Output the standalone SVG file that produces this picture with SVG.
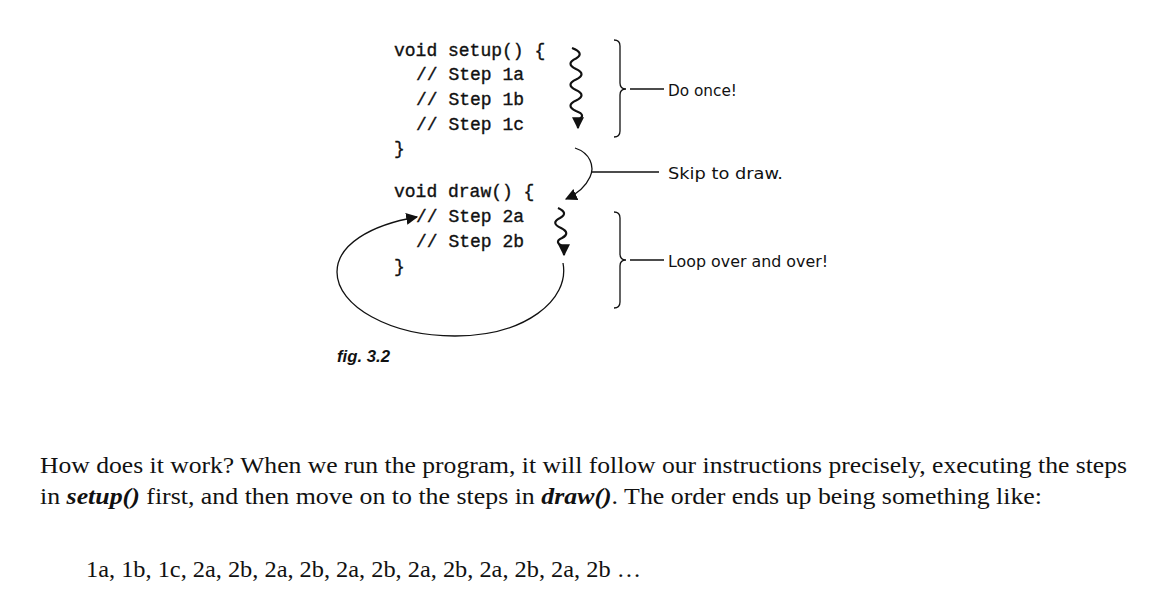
<svg xmlns="http://www.w3.org/2000/svg" width="1169" height="608" viewBox="0 0 1169 608">
<style>
.code{font-family:"Liberation Mono","Courier New",monospace;font-size:18px;fill:#111;stroke:#111;stroke-width:0.35}
.hand{font-family:"DejaVu Sans","Noto Sans",sans-serif;font-size:16px;fill:#111}
.body{font-family:"Liberation Serif","Times New Roman",serif;font-size:24px;fill:#111}
.bi{font-weight:bold;font-style:italic}
.ln{fill:none;stroke:#111;stroke-width:1.3}
.sq{fill:none;stroke:#111;stroke-width:2.2}
</style>
<defs>
<marker id="ah" viewBox="0 0 10 10" refX="9" refY="5" markerWidth="12" markerHeight="12" markerUnits="userSpaceOnUse" orient="auto">
<path d="M0,0 L10,5 L0,10 z" fill="#111"/>
</marker>
</defs>
<rect width="1169" height="608" fill="#fff"/>
<g id="setup-code">
<text class="code" x="394" y="56">void setup() {</text>
<text class="code" x="416" y="80">// Step 1a</text>
<text class="code" x="416" y="105">// Step 1b</text>
<text class="code" x="416" y="130">// Step 1c</text>
<text class="code" x="394" y="154">}</text>
</g>
<g id="draw-code">
<text class="code" x="394" y="197">void draw() {</text>
<text class="code" x="416" y="222">// Step 2a</text>
<text class="code" x="416" y="247">// Step 2b</text>
<text class="code" x="394" y="272">}</text>
</g>
<g id="connectors">
<path class="sq" d="M572,48 q13,5 4,10.5 q-11,5 0,10.5 q11,5 0,10.5 q-11,5 0,10.5 q11,5 0,10.5 q-11,5 0,10.5 q11,4 2,9 l0,8" marker-end="url(#ah)"/>
<path class="sq" d="M558,208 q11,5 2,10 q-10,5 1,10 q10,5 1,10 q-9,4 2,9 l0,8" marker-end="url(#ah)"/>
<path class="ln" stroke-width="1.5" d="M575,148 C590,153 595,166 590,177 C585,188 577,194 566,199" marker-end="url(#ah)"/>
<path class="ln" stroke-width="1.5" d="M563,263 C570,300 525,336 455,336 C390,336 337,306 337,272 C337,245 370,225 417,217" marker-end="url(#ah)"/>
<path class="ln" d="M592,172 H659"/>
</g>
<g id="brace-once">
<path class="ln" d="M614,40 Q620,40 620,46 L620,83 Q620,89 626,89 Q620,89 620,95 L620,131 Q620,137 614,137"/>
<path class="ln" d="M630,89 H664"/>
<text class="hand" x="668" y="96" textLength="69" lengthAdjust="spacingAndGlyphs">Do once!</text>
</g>
<g id="label-skip">
<text class="hand" x="668" y="179" textLength="115" lengthAdjust="spacingAndGlyphs">Skip to draw.</text>
</g>
<g id="brace-loop">
<path class="ln" d="M614,212 Q620,212 620,218 L620,254 Q620,260 626,260 Q620,260 620,266 L620,302 Q620,308 614,308"/>
<path class="ln" d="M630,260 H664"/>
<text class="hand" x="668" y="267" textLength="160" lengthAdjust="spacingAndGlyphs">Loop over and over!</text>
</g>
<text x="337" y="362" font-family="Liberation Sans, Arial, sans-serif" font-size="17" font-style="italic" font-weight="bold" fill="#111" textLength="53" lengthAdjust="spacingAndGlyphs">fig. 3.2</text>
<g id="body-text">
<text class="body" x="40" y="473" textLength="1087" lengthAdjust="spacingAndGlyphs">How does it work? When we run the program, it will follow our instructions precisely, executing the steps</text>
<text class="body" x="40" y="504" textLength="1002" lengthAdjust="spacingAndGlyphs">in <tspan class="bi">setup()</tspan> first, and then move on to the steps in <tspan class="bi">draw()</tspan>. The order ends up being something like:</text>
<text class="body" x="86" y="577" textLength="555" lengthAdjust="spacingAndGlyphs">1a, 1b, 1c, 2a, 2b, 2a, 2b, 2a, 2b, 2a, 2b, 2a, 2b, 2a, 2b …</text>
</g>
</svg>
